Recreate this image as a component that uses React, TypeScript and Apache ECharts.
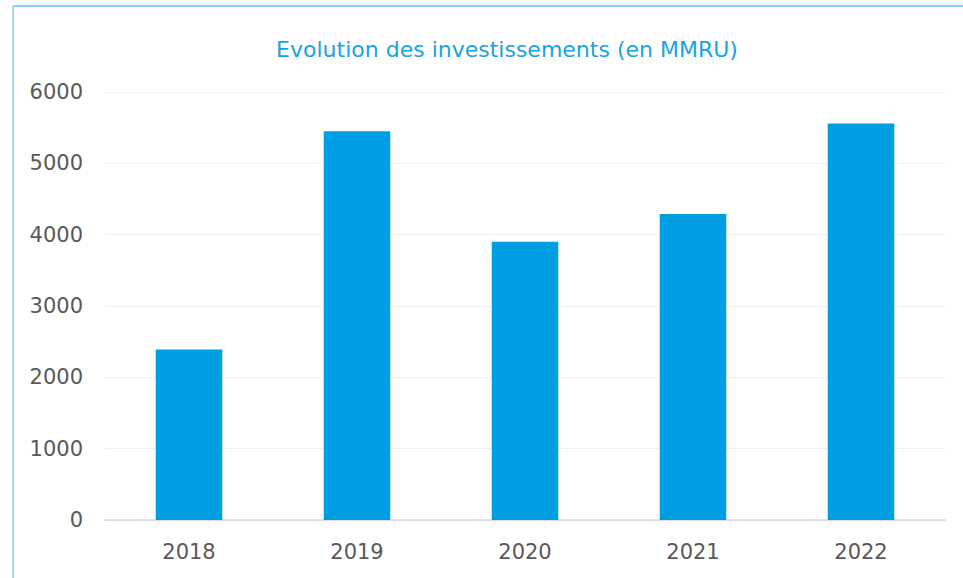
import React, { useEffect, useRef } from "react";
import * as echarts from "echarts";

const categories = ["2018", "2019", "2020", "2021", "2022"];
const investments = [2390, 5450, 3900, 4290, 5560];
const titleText = "Evolution des investissements (en MMRU)";

export default function App() {
  const ref = useRef<HTMLDivElement>(null);
  useEffect(() => {
    if (!ref.current) return;
    const chart = echarts.init(ref.current, undefined, { renderer: "svg" });
    chart.setOption({
      animation: false,
      backgroundColor: "#ffffff",
      title: {
        text: titleText,
        left: 502,
        textAlign: "center",
        top: 33,
        textStyle: {
          color: "#1aa3e0",
          fontFamily: "DejaVu Sans",
          fontSize: 22,
          fontWeight: "normal",
        },
      },
      graphic: [
        {
          type: "line",
          shape: { x1: 13, y1: 6, x2: 963, y2: 6 },
          style: { stroke: "#5cc0ee", lineWidth: 1.5 },
        },
        {
          type: "line",
          shape: { x1: 13, y1: 6, x2: 13, y2: 578 },
          style: { stroke: "#8ccfee", lineWidth: 1.5 },
        },
      ],
      grid: { left: 105, right: 18, top: 92, bottom: 58, containLabel: false },
      xAxis: {
        type: "category",
        data: categories,
        axisTick: { show: false },
        axisLine: { lineStyle: { color: "#d9d9d9", width: 1.5 } },
        axisLabel: {
          color: "#595959",
          fontFamily: "DejaVu Sans",
          fontSize: 21,
          margin: 21,
        },
      },
      yAxis: {
        type: "value",
        min: 0,
        max: 6000,
        interval: 1000,
        axisLine: { show: false },
        axisTick: { show: false },
        splitLine: { lineStyle: { color: "#efefef", width: 1 } },
        axisLabel: {
          color: "#595959",
          fontFamily: "DejaVu Sans",
          fontSize: 21,
          margin: 22,
          formatter: (v: number) => String(v),
        },
      },
      series: [
        {
          type: "bar",
          data: investments,
          barWidth: "39.6%",
          itemStyle: { color: "#009fe3" },
        },
      ],
    });
    return () => chart.dispose();
  }, []);
  return (
    <div
      ref={ref}
      style={{ position: "fixed", left: 0, top: 0, width: 963, height: 578 }}
    />
  );
}
